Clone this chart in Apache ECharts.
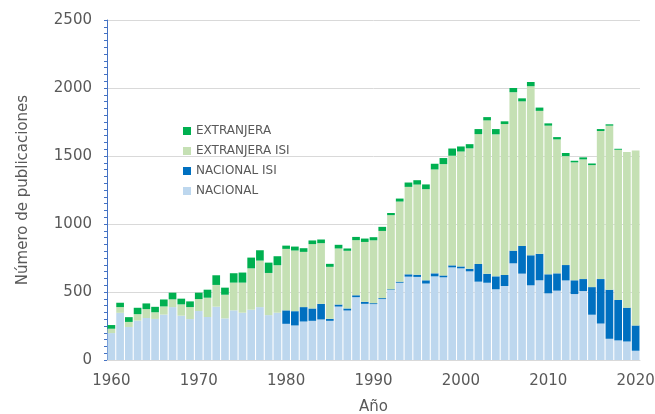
<!DOCTYPE html>
<html>
<head>
<meta charset="utf-8">
<script src="https://cdn.jsdelivr.net/npm/echarts@6/dist/echarts.min.js"></script>
<style>
  html, body { margin: 0; padding: 0; background: #fff; }
  #chart { width: 655px; height: 414px; }
</style>
</head>
<body>
<div id="chart"></div>
<script>
const years = []
for (let y = 1960; y <= 2020; y++) years.push(String(y))

// publicaciones por año
const nacional = [
  198, 347, 243, 290, 309, 302, 334, 389, 326, 301,
  360, 316, 392, 306, 365, 348, 370, 389, 330, 348,
  266, 254, 283, 288, 298, 288, 393, 364, 462, 413,
  411, 448, 515, 568, 613, 611, 562, 615, 608, 681,
  674, 652, 576, 568, 520, 544, 711, 635, 549, 586,
  490, 510, 585, 485, 507, 333, 268, 156, 144, 136,
  68
]
const nacionalIsi = [
  0, 0, 0, 0, 0, 0, 0, 0, 0, 0,
  0, 0, 0, 0, 0, 0, 0, 0, 0, 0,
  99, 105, 106, 91, 115, 15, 15, 15, 14, 15,
  7, 7, 5, 8, 17, 16, 24, 22, 14, 15,
  14, 19, 130, 66, 95, 81, 93, 204, 221, 195,
  140, 127, 113, 101, 88, 203, 327, 361, 297, 249,
  186
]
const extranjeraIsi = [
  32, 42, 37, 47, 65, 49, 60, 57, 83, 88,
  88, 142, 160, 174, 204, 221, 304, 342, 310, 349,
  452, 446, 406, 473, 446, 382, 412, 424, 405, 440,
  462, 494, 545, 589, 643, 663, 670, 764, 818, 806,
  845, 885, 955, 1128, 1044, 1110, 1165, 1063, 1243, 1051,
  1093, 985, 801, 867, 880, 897, 1089, 1206, 1105, 1144,
  1287
]
const extranjera = [
  27, 32, 35, 47, 42, 40, 51, 49, 42, 42,
  47, 59, 71, 52, 69, 74, 79, 76, 76, 66,
  24, 29, 27, 27, 27, 22, 27, 17, 24, 25,
  23, 30, 16, 22, 32, 32, 35, 42, 45, 53,
  37, 31, 37, 24, 39, 20, 31, 22, 31, 24,
  17, 17, 23, 12, 15, 12, 14, 10, 7, 0,
  0
]

const font = 'DejaVu Sans'
const gray = '#595959'

function bar(name, data, color) {
  return {
    name: name,
    type: 'bar',
    stack: 'total',
    barCategoryGap: '12%',
    data: data,
    itemStyle: { color: color }
  }
}

const option = {
  animation: false,
  textStyle: { fontFamily: font },
  grid: { left: 107, right: 15, top: 20, bottom: 54, outerBoundsMode: 'none' },
  legend: {
    orient: 'vertical',
    left: 178,
    top: 120,
    itemWidth: 8,
    itemHeight: 8,
    itemGap: 8,
    icon: 'rect',
    textStyle: { fontFamily: font, fontSize: 12, color: gray, lineHeight: 12 },
    data: ['EXTRANJERA', 'EXTRANJERA ISI', 'NACIONAL ISI', 'NACIONAL']
  },
  xAxis: {
    type: 'category',
    data: years,
    name: 'Año',
    nameLocation: 'middle',
    nameGap: 40,
    nameTextStyle: { fontFamily: font, fontSize: 15, color: gray },
    axisLine: { lineStyle: { color: '#d9d9d9' } },
    axisTick: { interval: 0, length: 4, lineStyle: { color: '#d9d9d9' } },
    axisLabel: { interval: 9, margin: 14, fontSize: 15, color: gray, fontFamily: font }
  },
  yAxis: {
    type: 'value',
    min: 0,
    max: 2500,
    interval: 500,
    name: 'Número de publicaciones',
    nameLocation: 'middle',
    nameGap: 76,
    nameTextStyle: { fontFamily: font, fontSize: 15, color: gray },
    axisLine: { show: true, lineStyle: { color: '#4472c4', width: 1 } },
    axisTick: { show: true, length: 3, lineStyle: { color: '#4472c4' } },
    minorTick: { show: true, splitNumber: 10, length: 3, lineStyle: { color: '#4472c4' } },
    axisLabel: {
      margin: 15, fontSize: 15, color: gray, fontFamily: font,
      formatter: v => String(v)
    },
    splitLine: { lineStyle: { color: '#d9d9d9' } }
  },
  series: [
    bar('NACIONAL', nacional, '#bdd7ee'),
    bar('NACIONAL ISI', nacionalIsi, '#0070c0'),
    bar('EXTRANJERA ISI', extranjeraIsi, '#c5e0b4'),
    bar('EXTRANJERA', extranjera, '#00b050')
  ]
}

const chart = echarts.init(document.getElementById('chart'))
chart.setOption(option)
</script>
</body>
</html>
